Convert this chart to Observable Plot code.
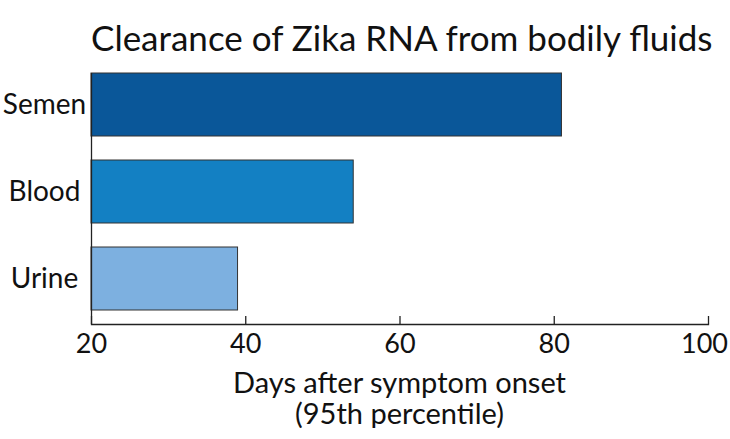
<!DOCTYPE html>
<html>
<head>
<meta charset="utf-8">
<script src="https://cdn.jsdelivr.net/npm/d3@7"></script>
<script src="https://cdn.jsdelivr.net/npm/@observablehq/plot@0.6"></script>
<style>
  body { margin: 0; background: #fff; font-family: Lato, sans-serif; color: #111; }
  #title { width: 730px; box-sizing: border-box; padding-left: 91px; padding-right: 22px; height: 60px;
           text-align: center; font-size: 35px; white-space: nowrap; overflow: visible; }
  #title span { display: inline-block; line-height: 1; margin-top: 20px; vertical-align: top; }
  #xlabel { width: 730px; box-sizing: border-box; padding-left: 91px; padding-right: 22px;
            text-align: center; font-size: 29px; line-height: 31px; margin-top: 6px; white-space: nowrap; }
  svg { display: block; }
</style>
</head>
<body>
<div id="title"><span>Clearance of Zika RNA from bodily fluids</span></div>
<div id="chart"></div>
<div id="xlabel">Days after symptom onset<br>(95th percentile)</div>
<script>
const fluids = ["Semen", "Blood", "Urine"];
const days = [81, 54, 39];
const colors = ["#0a5799", "#1380c3", "#7db0e0"];
const xDomain = [20, 100];
const xTicks = [20, 40, 60, 80, 100];

const data = fluids.map((f, i) => ({fluid: f, days: days[i], color: colors[i]}));

const height = 300, marginTop = 13, marginBottom = 36;
const frameH = height - marginTop - marginBottom;

const plot = Plot.plot({
  width: 730,
  height,
  marginTop,
  marginBottom,
  marginLeft: 91,
  marginRight: 22,
  style: {fontFamily: "Lato, sans-serif", fontSize: "27px", color: "#111", background: "#fff", overflow: "visible"},
  x: {domain: xDomain},
  y: {domain: fluids, paddingInner: 0.28, paddingOuter: 0.075, align: 0},
  marks: [
    Plot.barX(data, {x1: () => xDomain[0], x2: "days", y: "fluid", fill: "color", stroke: "#333", strokeWidth: 1}),
    Plot.ruleX([xDomain[0]], {stroke: "#222", strokeWidth: 1.3}),
    Plot.frame({anchor: "bottom", stroke: "#222", strokeWidth: 1.3}),
    Plot.ruleX(xTicks, {stroke: "#222", strokeWidth: 1.3, insetTop: frameH - 8}),
    Plot.axisX({ticks: xTicks.slice(0, -1), tickSize: 0, tickPadding: 9, fontSize: 27, label: null}),
    Plot.axisX({ticks: xTicks.slice(-1), tickSize: 0, tickPadding: 9, fontSize: 27, label: null, dx: -4}),
    Plot.axisY({tickSize: 0, tickPadding: 47, textAnchor: "middle", fontSize: 28, label: null})
  ]
});
document.getElementById("chart").appendChild(plot);
</script>
</body>
</html>
